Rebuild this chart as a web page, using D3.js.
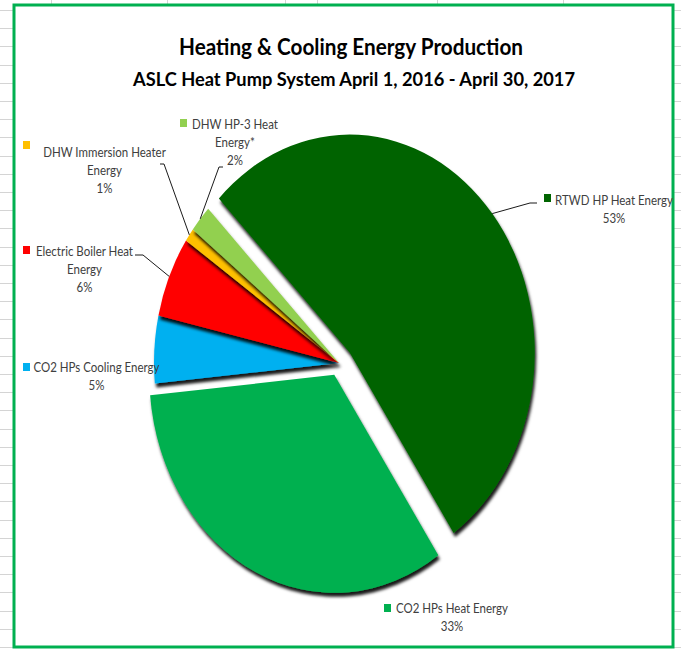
<!DOCTYPE html>
<html>
<head>
<meta charset="utf-8">
<script src="https://cdn.jsdelivr.net/npm/d3@7"></script>
<style>
body { margin: 0; background: #fff; }
svg { display: block; }
.lbl { font-family: Lato, "Open Sans", sans-serif; font-size: 11.5px; fill: #404040; }
.title { font-family: Lato, "Open Sans", sans-serif; font-weight: bold; fill: #000; }
</style>
</head>
<body>
<script>
//chart values
var categories = ["RTWD HP Heat Energy", "CO2 HPs Heat Energy", "CO2 HPs Cooling Energy",
    "Electric Boiler Heat Energy", "DHW Immersion Heater Energy", "DHW HP-3 Heat Energy*"];
var values = [53, 33, 5, 6, 1, 2];
var colors = ["#006400", "#00B050", "#00B0F0", "#FF0000", "#FFC000", "#92D050"];
var labelLines = [["RTWD HP Heat Energy"], ["CO2 HPs Heat Energy"], ["CO2 HPs Cooling Energy"],
    ["Electric Boiler Heat", "Energy"], ["DHW Immersion Heater", "Energy"], ["DHW HP-3 Heat", "Energy*"]];
var titleText = "Heating & Cooling Energy Production";
var subtitleText = "ASLC Heat Pump System April 1, 2016 - April 30, 2017";

(function(){

var width = 681, height = 649;
var yStretch = 1.18;   //the whole picture is stretched vertically

var svg = d3.select("body").append("svg")
    .attr("width", width)
    .attr("height", height);

//drop shadow under each slice
var defs = svg.append("defs");
var shadow = defs.append("filter")
    .attr("id", "shadow")
    .attr("x", "-50%").attr("y", "-50%")
    .attr("width", "200%").attr("height", "200%");
shadow.append("feDropShadow")
    .attr("dx", 1.5).attr("dy", 4)
    .attr("stdDeviation", 1.8)
    .attr("flood-color", "#000")
    .attr("flood-opacity", 0.9);

//spreadsheet grid around the chart
var grid = svg.append("g").attr("stroke", "#d4d4d4").attr("stroke-width", 1);
for (var y = 10; y < height; y += 18.2){
    grid.append("line").attr("x1", 0).attr("x2", 13).attr("y1", Math.round(y) + 0.5).attr("y2", Math.round(y) + 0.5);
    grid.append("line").attr("x1", 674).attr("x2", width).attr("y1", Math.round(y) + 0.5).attr("y2", Math.round(y) + 0.5);
};
[51, 167, 285, 317, 437, 563].forEach(function(x){
    grid.append("line").attr("x1", x + 0.5).attr("x2", x + 0.5).attr("y1", 0).attr("y2", 5);
});

//chart area with green border
svg.append("rect")
    .attr("x", 14).attr("y", 5)
    .attr("width", 659).attr("height", 642)
    .attr("fill", "#fff")
    .attr("stroke", "#00B050")
    .attr("stroke-width", 3);

//titles
svg.append("text")
    .attr("class", "title")
    .attr("text-anchor", "middle")
    .attr("transform", "translate(351,55) scale(1," + yStretch + ")")
    .style("font-size", "18.5px")
    .attr("textLength", 344)
    .attr("lengthAdjust", "spacingAndGlyphs")
    .text(titleText);
svg.append("text")
    .attr("class", "title")
    .attr("text-anchor", "middle")
    .attr("transform", "translate(354,86) scale(1," + yStretch + ")")
    .style("font-size", "15.5px")
    .attr("textLength", 442)
    .attr("lengthAdjust", "spacingAndGlyphs")
    .text(subtitleText);

//pie, drawn as an ellipse
var cx = 339, cy = 363, rx = 185, ry = 218;
var explode = [0.075, 0.06, 0, 0, 0, 0];
var start = -Math.PI / 4;

var pie = d3.pie()
    .sort(null)
    .startAngle(start)
    .endAngle(start + 2 * Math.PI);
var arc = d3.arc().innerRadius(0).outerRadius(rx);

var slices = pie(values);
slices.forEach(function(d, i){
    var mid = (d.startAngle + d.endAngle) / 2;
    d.ox = cx + explode[i] * rx * Math.sin(mid);
    d.oy = cy - explode[i] * ry * Math.cos(mid);
    d.mid = mid;
});

svg.selectAll(".slice")
    .data(slices)
    .enter()
    .append("g")
    .attr("class", "slice")
    .attr("filter", "url(#shadow)")
    .append("path")
    .attr("transform", function(d){
        return "translate(" + d.ox + "," + d.oy + ") scale(1," + (ry / rx) + ")";
    })
    .attr("d", arc)
    .attr("fill", function(d, i){ return colors[i]; });

//data labels with legend keys
var total = d3.sum(values);
var labelPos = [
    {x: 614, y: 204.5, key: [544, 194], leader: [537, 203, 530, 203]},
    {x: 452, y: 613, key: [384, 604], leader: null},
    {x: 96.5, y: 372, key: [23, 363], leader: null},
    {x: 84.5, y: 255.5, key: [23, 246], leader: [135, 255, 143, 255]},
    {x: 104.5, y: 157, key: [23, 141], leader: [160, 164, 164, 164]},
    {x: 235, y: 129, key: [180, 119], leader: [223, 167, 219, 167]}
];
var lineH = 18;

slices.forEach(function(d, i){
    var p = labelPos[i];
    var lines = labelLines[i].concat([Math.round(values[i] / total * 100) + "%"]);

    svg.append("rect")
        .attr("x", p.key[0]).attr("y", p.key[1])
        .attr("width", 7).attr("height", 8)
        .attr("fill", colors[i]);

    lines.forEach(function(t, j){
        svg.append("text")
            .attr("class", "lbl")
            .attr("text-anchor", "middle")
            .attr("transform", "translate(" + p.x + "," + (p.y + j * lineH) + ") scale(1," + yStretch + ")")
            .text(t);
    });

    //leader line from label to middle of the slice arc
    if (p.leader){
        var ex = d.ox + rx * Math.sin(d.mid),
            ey = d.oy - ry * Math.cos(d.mid);
        svg.append("polyline")
            .attr("points", [p.leader[0], p.leader[1], p.leader[2], p.leader[3], ex, ey].join(","))
            .attr("fill", "none")
            .attr("stroke", "#1a1a1a")
            .attr("stroke-width", 1);
    };
});

})();
</script>
</body>
</html>
